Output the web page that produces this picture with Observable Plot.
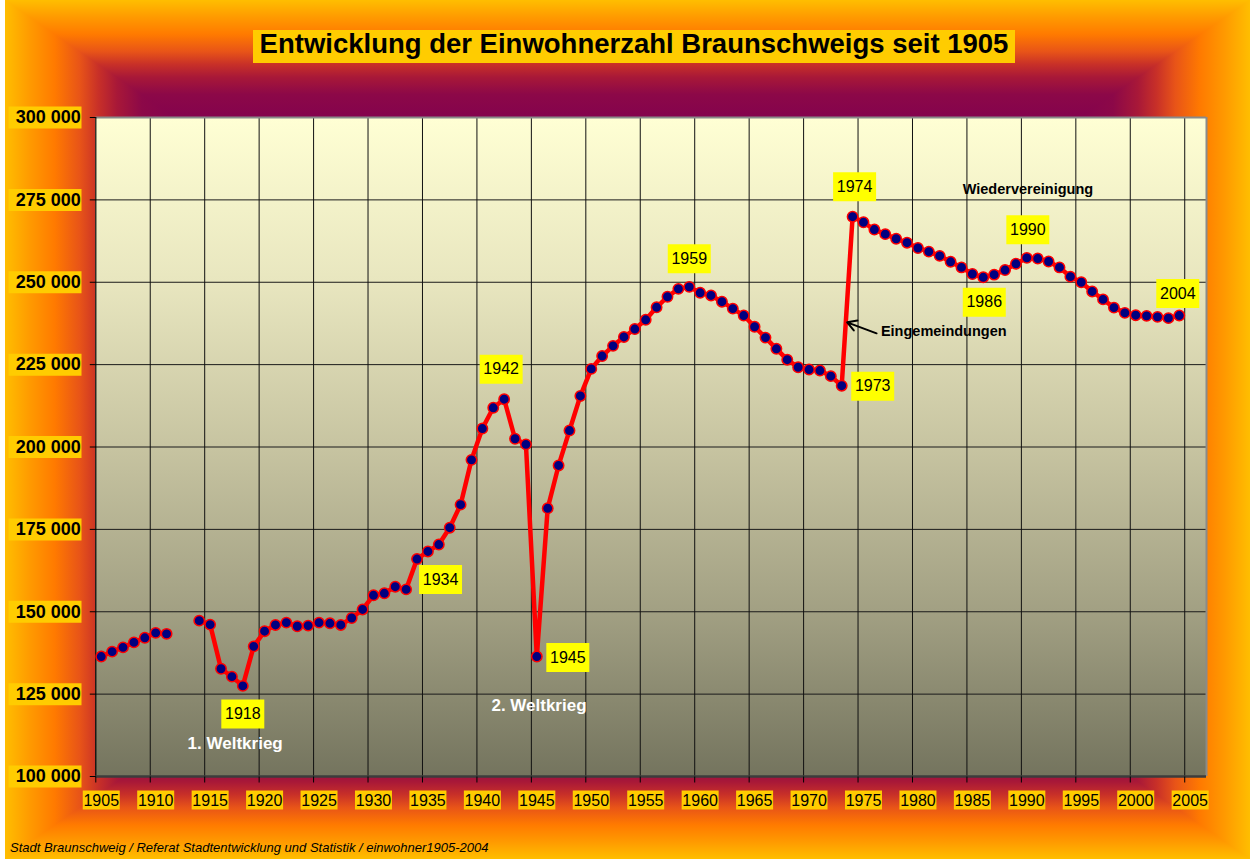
<!DOCTYPE html>
<html><head><meta charset="utf-8">
<script src="https://cdn.jsdelivr.net/npm/d3@7"></script>
<script src="https://cdn.jsdelivr.net/npm/@observablehq/plot@0.6"></script>
<style>
html,body{margin:0;padding:0;background:#fff;}
#wrap{position:relative;width:1250px;height:859px;overflow:hidden;font-family:"Liberation Sans",Arial,sans-serif;}
#bg{position:absolute;left:5px;top:0;width:1245px;height:859px;}
#bg div{position:absolute;left:0;top:0;width:100%;height:100%;}
#plotbg{position:absolute;left:95px;top:117px;width:1111px;height:659px;
  background:linear-gradient(to bottom,#FFFFD4 0%,#E8E6BF 25%,#C7C4A1 50%,#A2A083 75%,#74745E 100%);}
#title{position:absolute;left:253px;top:30px;width:762px;height:33px;background:#FFCC00;font-weight:bold;
  font-size:27.5px;line-height:27px;text-align:center;white-space:nowrap;color:#000;}
#caption{position:absolute;left:10px;top:841px;font-style:italic;font-size:13px;line-height:13px;white-space:nowrap;color:#000;}
#chart{position:absolute;left:0;top:0;}
</style>
</head>
<body>
<div id="wrap">
  <div id="bg"></div>
  <div id="plotbg"></div>
  <div id="chart"></div>
  <div id="title"></div>
  <div id="caption"></div>
</div>
<script>
// ---------- data ----------
const titleText = "Entwicklung der Einwohnerzahl Braunschweigs seit 1905";
const captionText = "Stadt Braunschweig / Referat Stadtentwicklung und Statistik / einwohner1905-2004";

const years = [1905,1906,1907,1908,1909,1910,1911,1912,1913,1914,
  1915,1916,1917,1918,1919,1920,1921,1922,1923,1924,
  1925,1926,1927,1928,1929,1930,1931,1932,1933,1934,
  1935,1936,1937,1938,1939,1940,1941,1942,1943,1944,
  1945,1946,1947,1948,1949,1950,1951,1952,1953,1954,
  1955,1956,1957,1958,1959,1960,1961,1962,1963,1964,
  1965,1966,1967,1968,1969,1970,1971,1972,1973,1974,
  1975,1976,1977,1978,1979,1980,1981,1982,1983,1984,
  1985,1986,1987,1988,1989,1990,1991,1992,1993,1994,
  1995,1996,1997,1998,1999,2000,2001,2002,2003,2004];

const population = [136400,137900,139200,140700,142100,143600,143300,null,null,147300,
  146100,132700,130300,127500,139500,144100,146000,146700,145600,145800,
  146700,146500,146000,148100,150700,155000,155600,157600,156800,166000,
  168300,170400,175500,182500,196100,205600,211900,214500,202500,200800,
  136400,181400,194400,205000,215500,223700,227600,230700,233400,235800,
  238600,242400,245600,248000,248600,246800,246000,244100,242000,239900,
  236500,233200,229800,226500,224200,223500,223200,221500,218600,269900,
  268200,266000,264600,263200,262000,260400,259300,258000,256200,254500,
  252500,251500,252300,253700,255600,257400,257200,256300,254500,251700,
  250000,247200,244800,242300,240700,240000,239800,239500,239100,239900];

const xTicks = [1905,1910,1915,1920,1925,1930,1935,1940,1945,1950,1955,1960,1965,1970,1975,1980,1985,1990,1995,2000,2005];
const xTickLabels = ["1905","1910","1915","1920","1925","1930","1935","1940","1945","1950","1955","1960","1965","1970","1975","1980","1985","1990","1995","2000","2005"];
const yTicks = [100000,125000,150000,175000,200000,225000,250000,275000,300000];
const yTickLabels = ["100 000","125 000","150 000","175 000","200 000","225 000","250 000","275 000","300 000"];

const highlightYears = [1918,1934,1942,1945,1959,1973,1974,1986,1990,2004];
const highlightDx = [0,23.5,-3,31,0,31,2,1,1,-1.5];
const highlightDy = [28,20.5,-30,1,-28,0.5,-30,25,-28,-22];

const warLabels = ["1. Weltkrieg","2. Weltkrieg"];
const warX = [1917.8,1945.7];
const warY = [110000,121500];
const noteLabels = ["Wiedervereinigung"];
const noteX = [1990.6];
const noteY = [278100];
const arrowLabel = ["Eingemeindungen"];
const arrowLabelX = [1977.1];
const arrowLabelY = [235200];
const arrowFrom = [1976.7, 234500];
const arrowTo = [1974.0, 237840];

// ---------- background (rectangular "from centre" gradient) ----------
const stopList = [["#FFBE00",0],["#FF9A00",2],["#FF7A00",4],["#E85418",6],["#C83028",7.5],["#A81838",9],["#8C0848",11],["#800050",15]];
const symStops = stopList.map(([c,p]) => `${c} ${p}%`).concat(stopList.slice().reverse().map(([c,p]) => `${c} ${100-p}%`)).join(", ");
const bg = document.getElementById("bg");
const base = document.createElement("div");
base.style.background = `linear-gradient(to right, ${symStops})`;
bg.appendChild(base);
const over = document.createElement("div");
over.style.background = `linear-gradient(to bottom, ${symStops})`;
over.style.clipPath = "polygon(0 0, 100% 0, 50% 50%, 100% 100%, 0 100%, 50% 50%)";
bg.appendChild(over);
document.getElementById("title").textContent = titleText;
document.getElementById("caption").textContent = captionText;

// ---------- chart ----------
const data = years.map((year, i) => ({year, pop: population[i]}));
const popOf = new Map(data.map(d => [d.year, d.pop]));
const mid = d => d + 0.5; // category centre

const boxSymbol = (x0, y0, w, h) => ({draw(ctx) { ctx.rect(x0, y0, w, h); }});
const segSymbol = (x0, y0, x1, y1) => ({draw(ctx) { ctx.moveTo(x0, y0); ctx.lineTo(x1, y1); }});

const highlightMarks = highlightYears.flatMap((yr, i) => [
  Plot.dot([yr], {x: mid, y: d => popOf.get(d), dx: highlightDx[i], dy: highlightDy[i],
    symbol: boxSymbol(-21.5, -14.5, 43, 29), fill: "#FFFF00", stroke: "none"}),
  Plot.text([yr], {x: mid, y: d => popOf.get(d), dx: highlightDx[i], dy: highlightDy[i],
    text: d => String(d), fontSize: 16, fill: "#000"})
]);

const chart = Plot.plot({
  width: 1250, height: 859,
  marginLeft: 95.3, marginRight: 44, marginTop: 117, marginBottom: 83,
  x: {domain: [1905, 2007], axis: null},
  y: {domain: [100000, 300000], axis: null},
  style: {background: "transparent", fontFamily: "'Liberation Sans', Arial, sans-serif", overflow: "visible"},
  marks: [
    Plot.ruleY(yTicks.slice(1, -1), {stroke: "#1a1a1a", strokeWidth: 1}),
    Plot.ruleX(xTicks.slice(1), {stroke: "#111", strokeWidth: 1}),
    Plot.ruleY([300000], {stroke: "#8a8a8a", strokeWidth: 2}),
    Plot.ruleX([2007], {stroke: "#8a8a8a", strokeWidth: 2}),
    Plot.ruleX([1905], {stroke: "#000", strokeWidth: 1.2}),
    Plot.ruleY([100000], {stroke: "#3c3c3c", strokeWidth: 2.5}),
    // tick marks
    Plot.dot(yTicks, {x: 1905, y: d => d, symbol: segSymbol(-6, 0, 0, 0), stroke: "#000", fill: "none", strokeWidth: 1}),
    Plot.dot(xTicks, {x: d => d, y: 100000, symbol: segSymbol(0, 0, 0, 6), stroke: "#000", fill: "none", strokeWidth: 1}),
    // tick labels
    Plot.dot(yTicks, {x: 1905, y: d => d, symbol: boxSymbol(-87.3, -11, 73, 22), fill: "#FFCC00", stroke: "none"}),
    Plot.text(yTicks, {x: 1905, y: d => d, text: (d, i) => yTickLabels[i], dx: -15, textAnchor: "end",
      fontWeight: "bold", fontSize: 18, fill: "#000"}),
    Plot.dot(xTicks, {x: mid, y: 100000, dy: 23.5, symbol: boxSymbol(-18.5, -9.5, 37, 19), fill: "#FFCC00", stroke: "none"}),
    Plot.text(xTicks, {x: mid, y: 100000, dy: 24, text: (d, i) => xTickLabels[i], fontSize: 16, fill: "#000"}),
    // series
    Plot.line(data, {x: d => mid(d.year), y: "pop", stroke: "#FF0000", strokeWidth: 4.5}),
    Plot.dot(data.filter(d => d.pop != null), {x: d => mid(d.year), y: "pop", r: 5.2,
      fill: "#000080", stroke: "#FF0000", strokeWidth: 1.5}),
    // annotations
    ...highlightMarks,
    Plot.text(warLabels, {x: (d, i) => warX[i], y: (d, i) => warY[i], text: d => d,
      fill: "#FFFFFF", fontWeight: "bold", fontSize: 17}),
    Plot.text(noteLabels, {x: (d, i) => noteX[i], y: (d, i) => noteY[i], text: d => d,
      fill: "#000", fontWeight: "bold", fontSize: 14.5}),
    Plot.text(arrowLabel, {x: (d, i) => arrowLabelX[i], y: (d, i) => arrowLabelY[i], text: d => d,
      textAnchor: "start", fill: "#000", fontWeight: "bold", fontSize: 14.5}),
    Plot.arrow([0], {x1: arrowFrom[0], y1: arrowFrom[1], x2: arrowTo[0], y2: arrowTo[1],
      stroke: "#000", strokeWidth: 2, headLength: 10})
  ]
});
document.getElementById("chart").appendChild(chart);
</script>
</body></html>
